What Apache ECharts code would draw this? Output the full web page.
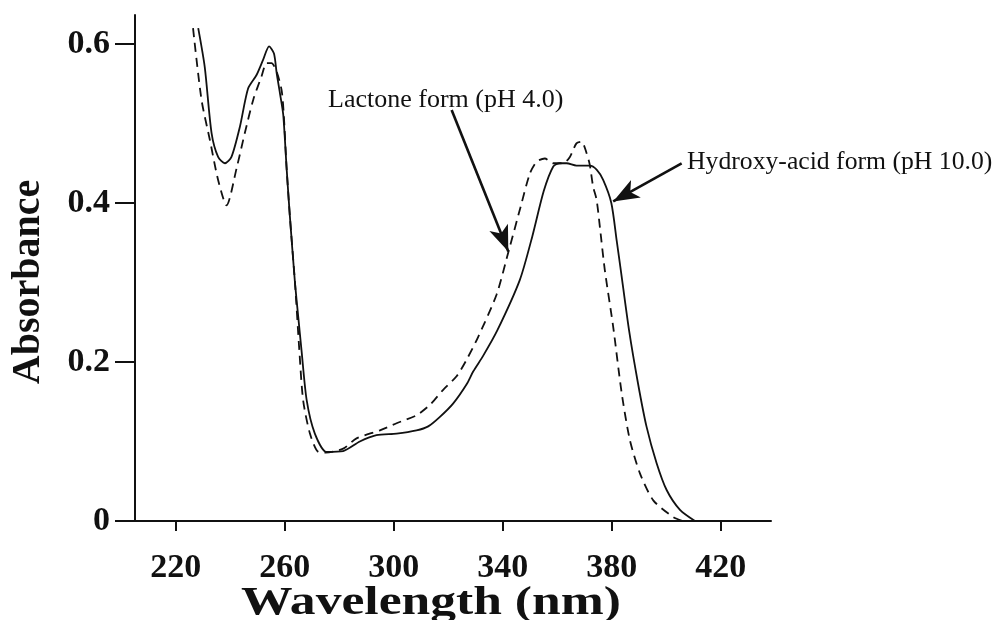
<!DOCTYPE html>
<html><head><meta charset="utf-8">
<script src="https://cdn.jsdelivr.net/npm/echarts@6.0.0/dist/echarts.min.js"></script>
<style>html,body{margin:0;padding:0;background:#fff}#c{width:996px;height:620px}</style>
</head><body><div id="c"></div>
<script>
const xTicks = [220, 260, 300, 340, 380, 420];
const yTicks = [0, 0.2, 0.4, 0.6];
const xTitle = 'Wavelength (nm)';
const yTitle = 'Absorbance';

const lactoneWavelength = [226.3, 229.4, 232.5, 235.5, 238.6, 242.3, 245.3, 248.4, 251.4, 253.3, 255.1, 257.0, 258.8, 259.6, 260.6, 261.8, 263.7, 265.3, 266.7, 269.2, 272.2, 275.0, 281.4, 286.3, 294.9, 301.0, 308.3, 313.2, 318.1, 323.0, 326.7, 331.0, 337.7, 342.0, 346.5, 349.9, 352.4, 355.4, 358.5, 362.1, 364.6, 367.0, 368.9, 370.7, 371.9, 373.1, 374.4, 375.6, 377.4, 380.5, 383.6, 386.6, 390.3, 395.2, 402.5, 406.0];
const lactoneAbsorbance = [0.620, 0.530, 0.479, 0.429, 0.397, 0.444, 0.488, 0.530, 0.559, 0.576, 0.576, 0.565, 0.542, 0.511, 0.446, 0.385, 0.300, 0.215, 0.152, 0.110, 0.087, 0.086, 0.091, 0.104, 0.114, 0.123, 0.133, 0.146, 0.165, 0.182, 0.203, 0.232, 0.285, 0.338, 0.395, 0.437, 0.452, 0.456, 0.450, 0.450, 0.458, 0.475, 0.477, 0.463, 0.448, 0.421, 0.404, 0.370, 0.316, 0.244, 0.161, 0.102, 0.060, 0.026, 0.005, 0.0];

const hydroxyWavelength = [228.2, 230.6, 233.1, 235.5, 238.0, 240.4, 243.5, 246.5, 249.6, 252.0, 254.2, 256.0, 257.0, 258.2, 259.4, 260.6, 261.8, 263.7, 264.9, 266.1, 268.0, 271.0, 275.3, 281.4, 287.5, 293.6, 301.0, 308.3, 312.6, 316.9, 321.8, 326.7, 329.1, 332.8, 338.0, 346.2, 350.8, 355.0, 358.5, 360.9, 363.4, 367.0, 371.9, 374.4, 376.8, 379.8, 381.8, 383.3, 386.3, 389.6, 392.7, 396.4, 400.1, 405.0, 410.5];
const hydroxyAbsorbance = [0.620, 0.571, 0.488, 0.458, 0.450, 0.458, 0.496, 0.544, 0.561, 0.580, 0.597, 0.588, 0.563, 0.538, 0.511, 0.446, 0.385, 0.300, 0.257, 0.215, 0.152, 0.110, 0.087, 0.088, 0.100, 0.108, 0.110, 0.114, 0.119, 0.131, 0.148, 0.172, 0.188, 0.208, 0.240, 0.303, 0.358, 0.415, 0.446, 0.450, 0.450, 0.447, 0.447, 0.442, 0.429, 0.400, 0.352, 0.315, 0.240, 0.173, 0.119, 0.073, 0.039, 0.014, 0.0];

const lactoneLabel = 'Lactone form (pH 4.0)';
const hydroxyLabel = 'Hydroxy-acid form (pH 10.0)';
const lactoneArrow = [[321.2, 0.517], [342.0, 0.339]];
const hydroxyArrow = [[405.6, 0.450], [380.5, 0.402]];

const pairs = (xs, ys) => xs.map((x, i) => [x, ys[i]]);
const serif = '"Liberation Serif", "Times New Roman", serif';
const ink = '#111';

const chart = echarts.init(document.getElementById('c'), null, {renderer: 'canvas'});

function arrowMark(a) {
  return {
    silent: true,
    symbol: ['none', 'arrow'],
    symbolSize: [15, 26],
    label: {show: false},
    emphasis: {disabled: true},
    lineStyle: {color: ink, width: 2.6, type: 'solid'},
    animation: false,
    data: [[{coord: a[0]}, {coord: a[1]}]]
  };
}

chart.setOption({
  animation: false,
  backgroundColor: '#fff',
  grid: {left: 135, right: 225, top: 15, bottom: 99, containLabel: false, outerBoundsMode: 'none'},
  xAxis: {
    type: 'value', min: 205, max: 438.4,
    axisLine: {show: true, lineStyle: {color: ink, width: 2}},
    axisTick: {show: true, inside: false, length: 10, lineStyle: {color: ink, width: 2}, customValues: xTicks},
    axisLabel: {show: true, margin: 30, fontFamily: serif, fontWeight: 'bold', fontSize: 34, color: ink, customValues: xTicks},
    splitLine: {show: false}
  },
  yAxis: {
    type: 'value', min: 0, max: 0.6365,
    name: yTitle, nameLocation: 'middle', nameGap: 86,
    nameTextStyle: {fontFamily: serif, fontWeight: 'bold', fontSize: 40, color: ink, padding: [0, 28, 0, 0]},
    axisLine: {show: true, lineStyle: {color: ink, width: 2}},
    axisTick: {show: true, inside: false, length: 20, lineStyle: {color: ink, width: 2}, customValues: yTicks},
    axisLabel: {show: true, margin: 25, fontFamily: serif, fontWeight: 'bold', fontSize: 34, color: ink, customValues: yTicks,
      formatter: v => String(v)},
    splitLine: {show: false}
  },
  series: [
    {
      name: lactoneLabel, type: 'line', data: pairs(lactoneWavelength, lactoneAbsorbance),
      showSymbol: false, symbol: 'none', smooth: 0.25,
      lineStyle: {color: ink, width: 1.8, type: [9, 6]},
      markLine: arrowMark(lactoneArrow)
    },
    {
      name: hydroxyLabel, type: 'line', data: pairs(hydroxyWavelength, hydroxyAbsorbance),
      showSymbol: false, symbol: 'none', smooth: 0.25,
      lineStyle: {color: ink, width: 1.8, type: 'solid'},
      markLine: arrowMark(hydroxyArrow)
    }
  ],
  graphic: [
    {type: 'text', left: 328, top: 87, silent: true,
      style: {text: lactoneLabel, fontFamily: serif, fontSize: 26, fill: ink}},
    {type: 'text', left: 687, top: 149, silent: true,
      style: {text: hydroxyLabel, fontFamily: serif, fontSize: 25.7, fill: ink}},
    {type: 'text', x: 431, y: 604, scaleX: 1.29, silent: true,
      style: {text: xTitle, fontFamily: serif, fontWeight: 'bold', fontSize: 40, fill: ink, align: 'center', verticalAlign: 'middle'}}
  ]
});
</script>
</body></html>
